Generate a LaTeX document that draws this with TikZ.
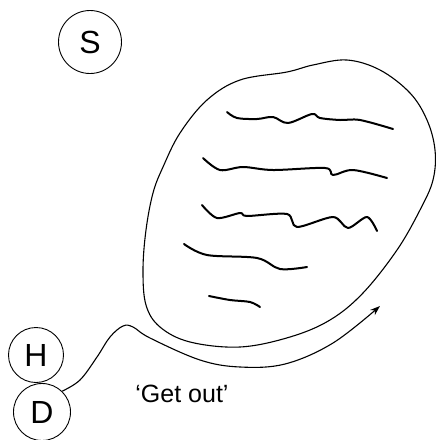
\documentclass[tikz,border=0pt]{standalone}
\usepackage{fontspec}
\setmainfont{Liberation Sans}
\usetikzlibrary{arrows.meta}
\tikzset{
  letter/.style={draw, circle, line width=0.9pt, inner sep=0pt, font=\fontsize{32}{32}\selectfont},
  outline/.style={line width=1.1pt},
  squig/.style={line width=2pt, line cap=round, line join=round},
  conn/.style={line width=1.1pt, -{Stealth[length=10pt,width=7pt]}}
}
\begin{document}
\begin{tikzpicture}[x=1pt,y=-1pt]
\useasboundingbox (0,0) rectangle (436,440);
\node[letter, minimum size=63pt] (S) at (90,42) {S};
\node[letter, minimum size=55pt] (H) at (36,355) {H};
\node[letter, minimum size=57pt] (D) at (42,412) {D};
\node[font=\fontsize{25}{25}\selectfont] (lab) at (182,394) {‘Get out’};
% blob
\draw[outline] plot[smooth cycle, tension=0.6] coordinates {
 (347,60) (380,70) (410,93) (427,120) (435,150) (433,180) (420,210) (397,250)
 (363,293) (330,320) (290,337) (240,347) (190,342) (160,327) (146,305) (143,270)
 (146,230) (153,193) (163,167) (180,133) (207,100) (240,80) (287,72) (313,65)};
% squiggles
\draw[squig] plot[smooth, tension=0.55] coordinates {
 (227,112) (237,118) (257,119) (273,117) (288,123) (312,114) (320,118) (340,120) (360,120) (393,129)};
\draw[squig] plot[smooth, tension=0.55] coordinates {
 (203,158) (220,170) (243,167) (273,170) (325,168) (333,175) (353,170) (387,178)};
\draw[squig] plot[smooth, tension=0.5] coordinates {
 (202,205) (217,218) (240,213) (247,216) (287,214) (297,227) (333,217) (348,228) (367,217) (377,231)};
\draw[squig] plot[smooth, tension=0.55] coordinates {
 (184,244) (207,255) (257,258) (280,269) (307,267)};
\draw[squig] plot[smooth, tension=0.55] coordinates {
 (209,296) (230,300) (250,302) (260,307)};
% connector
\coordinate (tip) at (380,306);
\draw[conn] plot[smooth, tension=0.6] coordinates {
 (D.46) (80,380) (97,357) (110,337) (123,326) (133,327) (150,338) (200,360)
 (240,367) (285,364) (333,343) (tip)};
\end{tikzpicture}
\end{document}
